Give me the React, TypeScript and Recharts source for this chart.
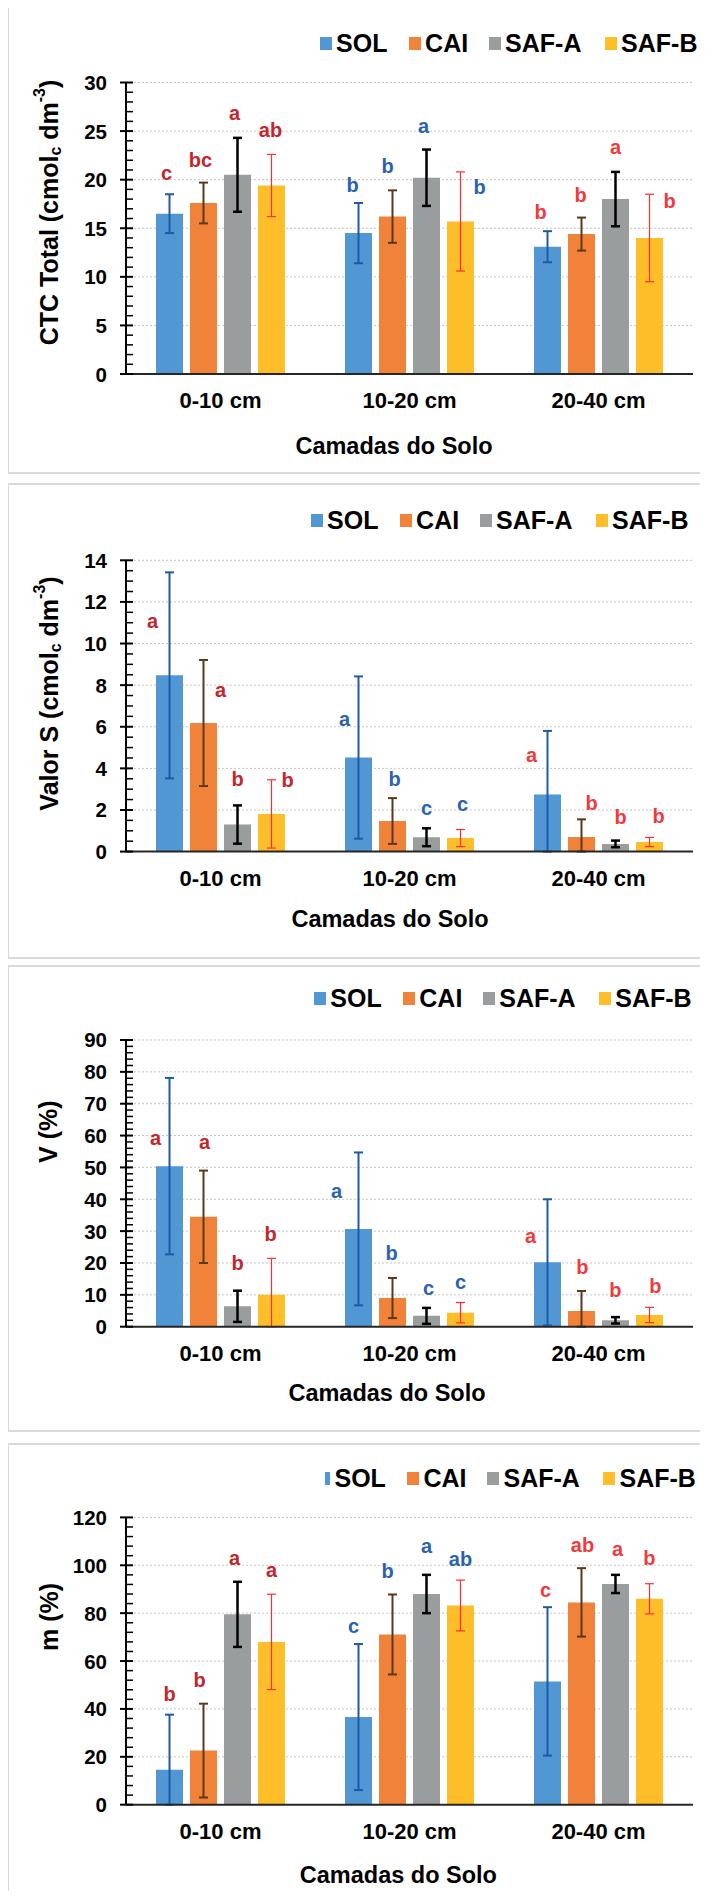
import React from "react";
import { Bar, BarChart, CartesianGrid, ErrorBar, LabelList, XAxis, YAxis } from "recharts";

// camadas do solo e tratamentos
const camadas = ["0-10 cm", "10-20 cm", "20-40 cm"];
const tratamentos = ["SOL", "CAI", "SAF-A", "SAF-B"];
const cores = ["#5097d4", "#f0823a", "#9a9d9e", "#fdbe2a"];
const coresErro = ["#1f5aa8", "#5b3817", "#000000", "#ff2d2d"];
const espErro = [2, 2, 2.5, 1.2];
const coresLetra = ["#c3262d", "#2b62b0", "#f03a3d"]; // por camada

// CTC Total
const ctcSol = [16.5, 14.5, 13.1];
const ctcCai = [17.6, 16.2, 14.4];
const ctcSafA = [20.5, 20.2, 18.0];
const ctcSafB = [19.4, 15.7, 14.0];
const ctcSolErr = [2.0, 3.1, 1.6];
const ctcCaiErr = [2.1, 2.7, 1.7];
const ctcSafAErr = [3.8, 2.9, 2.8];
const ctcSafBErr = [3.2, 5.1, 4.5];
const ctcLetras = [["c", "b", "b"], ["bc", "b", "b"], ["a", "a", "a"], ["ab", "b", "b"]];
const ctcLetraEm = [[20.7, 19.5, 16.7], [22.0, 21.4, 18.4], [26.9, 25.5, 23.4], [25.1, 19.2, 17.8]];
const ctcTicks = [0, 5, 10, 15, 20, 25, 30];

// Valor S
const sSol = [8.47, 4.52, 2.75];
const sCai = [6.18, 1.47, 0.7];
const sSafA = [1.3, 0.69, 0.37];
const sSafB = [1.81, 0.65, 0.46];
const sSolErr = [4.95, 3.9, 3.05];
const sCaiErr = [3.03, 1.1, 0.85];
const sSafAErr = [0.92, 0.43, 0.16];
const sSafBErr = [1.64, 0.41, 0.22];
const sLetras = [["a", "a", "a"], ["a", "b", "b"], ["b", "c", "b"], ["b", "c", "b"]];
const sLetraEm = [[11.1, 6.36, 4.66], [7.75, 3.47, 2.34], [3.47, 2.11, 1.66], [3.43, 2.27, 1.71]];
const sTicks = [0, 2, 4, 6, 8, 10, 12, 14];

// V (%)
const vSol = [50.4, 30.7, 20.2];
const vCai = [34.5, 9.0, 4.9];
const vSafA = [6.4, 3.4, 2.0];
const vSafB = [10.05, 4.4, 3.67];
const vSolErr = [27.7, 24, 19.8];
const vCaiErr = [14.5, 6.3, 6.3];
const vSafAErr = [4.9, 2.5, 1.0];
const vSafBErr = [11.4, 3.2, 2.4];
const vLetras = [["a", "a", "a"], ["a", "b", "b"], ["b", "c", "b"], ["b", "c", "b"]];
const vLetraEm = [[59.3, 42.7, 28.4], [57.9, 23, 18.7], [19.9, 12.2, 11.6], [29, 14.1, 12.7]];
const vTicks = [0, 10, 20, 30, 40, 50, 60, 70, 80, 90];

// m (%)
const mSol = [14.6, 36.6, 51.5];
const mCai = [22.6, 71.1, 84.5];
const mSafA = [79.5, 88, 92.2];
const mSafB = [68, 83.2, 86];
const mSolErr = [23, 30.5, 31];
const mCaiErr = [19.6, 16.7, 14.3];
const mSafAErr = [13.6, 8, 3.8];
const mSafBErr = [19.9, 10.6, 6.3];
const mLetras = [["b", "c", "c"], ["b", "b", "ab"], ["a", "a", "a"], ["a", "ab", "b"]];
const mLetraEm = [[46.2, 74.5, 89.8], [52, 97.5, 108.6], [103, 107.9, 106.9], [98.2, 102.6, 103]];
const mTicks = [0, 20, 40, 60, 80, 100, 120];

const FONT = "'Liberation Sans', Arial, sans-serif";
const PLOT_LEFT = 126;
const PLOT_RIGHT = 693;
const W = 708;

type Painel = {
  vals: number[][];
  errs: number[][];
  letras: string[][];
  letraEm: number[][];
  ticks: number[];
  minor: number;
  nudge: number[][]; // deslocamento horizontal das letras (px)
  titulo: string;
  unidade: boolean;
  box: { top: number; bottom: number; plotTop: number; plotBottom: number; legY: number; legX: number; yTitY: number; xTit: [number, number] };
  legSolW?: number;
};

const paineis: Painel[] = [
  {
    vals: [ctcSol, ctcCai, ctcSafA, ctcSafB],
    errs: [ctcSolErr, ctcCaiErr, ctcSafAErr, ctcSafBErr],
    letras: ctcLetras,
    letraEm: ctcLetraEm,
    ticks: ctcTicks,
    minor: 1,
    nudge: [[-3, -6, -7], [-3, -5, -1], [-3, -3, 0], [-1, 19, 20]],
    titulo: "CTC Total (cmol",
    unidade: true,
    box: { top: 5, bottom: 474, plotTop: 82.5, plotBottom: 374, legY: 43.3, legX: 319.6, yTitY: 212.5, xTit: [394, 445.7] },
  },
  {
    vals: [sSol, sCai, sSafA, sSafB],
    errs: [sSolErr, sCaiErr, sSafAErr, sSafBErr],
    letras: sLetras,
    letraEm: sLetraEm,
    ticks: sTicks,
    minor: 0.5,
    nudge: [[-17, -14, -16], [17, 2, 10], [0, 0, 5], [16, 2, 9]],
    titulo: "Valor S (cmol",
    unidade: true,
    box: { top: 482.7, bottom: 959, plotTop: 560, plotBottom: 851.3, legY: 520, legX: 310.6, yTitY: 693.5, xTit: [390, 919] },
  },
  {
    vals: [vSol, vCai, vSafA, vSafB],
    errs: [vSolErr, vCaiErr, vSafAErr, vSafBErr],
    letras: vLetras,
    letraEm: vLetraEm,
    ticks: vTicks,
    minor: 2,
    nudge: [[-14, -22, -17], [1, -1, 1], [0, 2, 0], [-1, 0, 6]],
    titulo: "V (%)",
    unidade: false,
    box: { top: 965, bottom: 1431.7, plotTop: 1040, plotBottom: 1326.7, legY: 998.3, legX: 313.8, yTitY: 1131.7, xTit: [387, 1393.3] },
  },
  {
    vals: [mSol, mCai, mSafA, mSafB],
    errs: [mSolErr, mCaiErr, mSafAErr, mSafBErr],
    letras: mLetras,
    letraEm: mLetraEm,
    ticks: mTicks,
    minor: 4,
    nudge: [[0, -5, -2], [-4, -5, 1], [-3, 0, 2], [0, 0, 0]],
    titulo: "m (%)",
    unidade: false,
    box: { top: 1443.3, bottom: 1897, plotTop: 1517.7, plotBottom: 1805, legY: 1478.3, legX: 318, yTitY: 1617, xTit: [398.4, 1875] },
    legSolW: 5,
  },
];

const keys = ["s0", "s1", "s2", "s3"];

function montaLinhas(p: Painel) {
  return camadas.map((cat, i) => {
    const row: Record<string, unknown> = { cat };
    p.vals.forEach((arr, s) => {
      row[keys[s]] = arr[i];
      // barra de erro cortada no eixo (como no Excel)
      row[keys[s] + "e"] = [Math.min(p.errs[s][i], arr[i]), p.errs[s][i]];
    });
    return row;
  });
}

function yTick(major: number[]) {
  return (props: any) => {
    const { x, y, payload } = props;
    const isMajor = major.includes(payload.value);
    return (
      <g>
        {isMajor ? (
          <line x1={x - 6} x2={x + 7} y1={y} y2={y} stroke="#000" strokeWidth={2} />
        ) : (
          <line x1={x} x2={x + 7} y1={y} y2={y} stroke="#000" strokeWidth={1.5} />
        )}
        {isMajor && (
          <text x={x - 19} y={y} textAnchor="end" dominantBaseline="central" fontSize={20.5} fontWeight="bold" fill="#000" fontFamily={FONT}>
            {payload.value}
          </text>
        )}
      </g>
    );
  };
}

const XTick = (props: any) => (
  <text x={props.x} y={props.y + 26.5} textAnchor="middle" dominantBaseline="central" fontSize={22} fontWeight="bold" fill="#000" fontFamily={FONT}>
    {props.payload.value}
  </text>
);

function letra(letras: string[], em: number[], nudge: number[]) {
  return (props: any) => {
    const vb = props.viewBox || props;
    const i = props.index;
    const v = Number(props.value);
    if (!vb || !v || i == null) return null;
    const base = vb.y + vb.height;
    const y = base - (em[i] / v) * vb.height;
    const x = vb.x + vb.width / 2 + nudge[i];
    return (
      <text key={`l${i}`} x={x} y={y} textAnchor="middle" dominantBaseline="central" fontSize={20} fontWeight="bold" fill={coresLetra[i]} fontFamily={FONT}>
        {letras[i]}
      </text>
    );
  };
}

function Grafico({ p }: { p: Painel }) {
  const b = p.box;
  const max = p.ticks[p.ticks.length - 1];
  const todos: number[] = [];
  for (let t = 0; t <= max + 1e-9; t += p.minor) todos.push(Math.round(t * 100) / 100);
  return (
    <div style={{ position: "absolute", left: 0, top: b.top }}>
      <BarChart
        width={W}
        height={b.plotBottom - b.top + 40}
        data={montaLinhas(p)}
        margin={{ top: b.plotTop - b.top, right: W - PLOT_RIGHT, left: PLOT_LEFT - 100, bottom: 0 }}
        barGap={7}
      >
        <CartesianGrid vertical={false} horizontalValues={p.ticks.slice(1)} stroke="#c4c4c4" strokeDasharray="2 2" />
        <XAxis dataKey="cat" height={40} tickSize={0} tickMargin={0} tickLine={false} interval={0} axisLine={{ stroke: "#262626", strokeWidth: 2 }} tick={XTick} />
        <YAxis
          type="number"
          width={100}
          domain={[0, max]}
          allowDataOverflow
          ticks={todos}
          interval={0}
          tickSize={0}
          tickMargin={0}
          tickLine={false}
          axisLine={{ stroke: "#000", strokeWidth: 2 }}
          tick={yTick(p.ticks)}
        />
        {keys.map((k, s) => (
          <Bar key={k} dataKey={k} fill={cores[s]} barSize={27} isAnimationActive={false}>
            <ErrorBar dataKey={k + "e"} width={4.5} stroke={coresErro[s]} strokeWidth={espErro[s]} />
            <LabelList dataKey={k} content={letra(p.letras[s], p.letraEm[s], p.nudge[s])} />
          </Bar>
        ))}
      </BarChart>
    </div>
  );
}

function Legenda({ p }: { p: Painel }) {
  const pos = [0, 89, 169, 285];
  return (
    <>
      {tratamentos.map((t, s) => {
        const w = s === 0 && p.legSolW ? p.legSolW : 12;
        return (
          <div
            key={t}
            style={{
              position: "absolute",
              left: p.box.legX + pos[s] + (12 - w),
              top: p.box.legY - 15,
              height: 30,
              display: "flex",
              alignItems: "center",
              fontFamily: FONT,
              fontWeight: "bold",
              fontSize: 25,
              color: "#000",
              whiteSpace: "nowrap",
            }}
          >
            <span style={{ display: "inline-block", width: w, height: 13, background: cores[s], marginRight: 4.5 }} />
            {t}
          </div>
        );
      })}
    </>
  );
}

export default function App() {
  return (
    <div style={{ position: "relative", width: W, height: 1899, margin: -8, overflow: "hidden", background: "#fff" }}>
      {paineis.map((p, i) => (
        <div
          key={`box${i}`}
          style={{
            position: "absolute",
            left: 7,
            top: p.box.top,
            width: 720,
            height: p.box.bottom - p.box.top,
            border: "2px solid #d9d9d9",
            boxSizing: "border-box",
          }}
        />
      ))}
      {paineis.map((p, i) => (
        <Grafico key={`g${i}`} p={p} />
      ))}
      {paineis.map((p, i) => (
        <Legenda key={`l${i}`} p={p} />
      ))}
      <svg width={W} height={1899} style={{ position: "absolute", left: 0, top: 0, pointerEvents: "none" }} fontFamily={FONT}>
        {paineis.map((p, i) => {
          const tx = 48.5;
          const ty = p.box.yTitY;
          return (
            <g key={`t${i}`}>
              <text transform={`rotate(-90 ${tx} ${ty})`} x={tx} y={ty} textAnchor="middle" dominantBaseline="central" fontSize={25} fontWeight="bold" fill="#000">
                {p.titulo}
                {p.unidade && (
                  <>
                    <tspan dy={6} fontSize={16}>c</tspan>
                    <tspan dy={-6}> dm</tspan>
                    <tspan dy={-10} fontSize={16}>-3</tspan>
                    <tspan dy={10}>)</tspan>
                  </>
                )}
              </text>
              <text x={p.box.xTit[0]} y={p.box.xTit[1]} textAnchor="middle" dominantBaseline="central" fontSize={23.5} fontWeight="bold" fill="#000">
                Camadas do Solo
              </text>
            </g>
          );
        })}
      </svg>
    </div>
  );
}
